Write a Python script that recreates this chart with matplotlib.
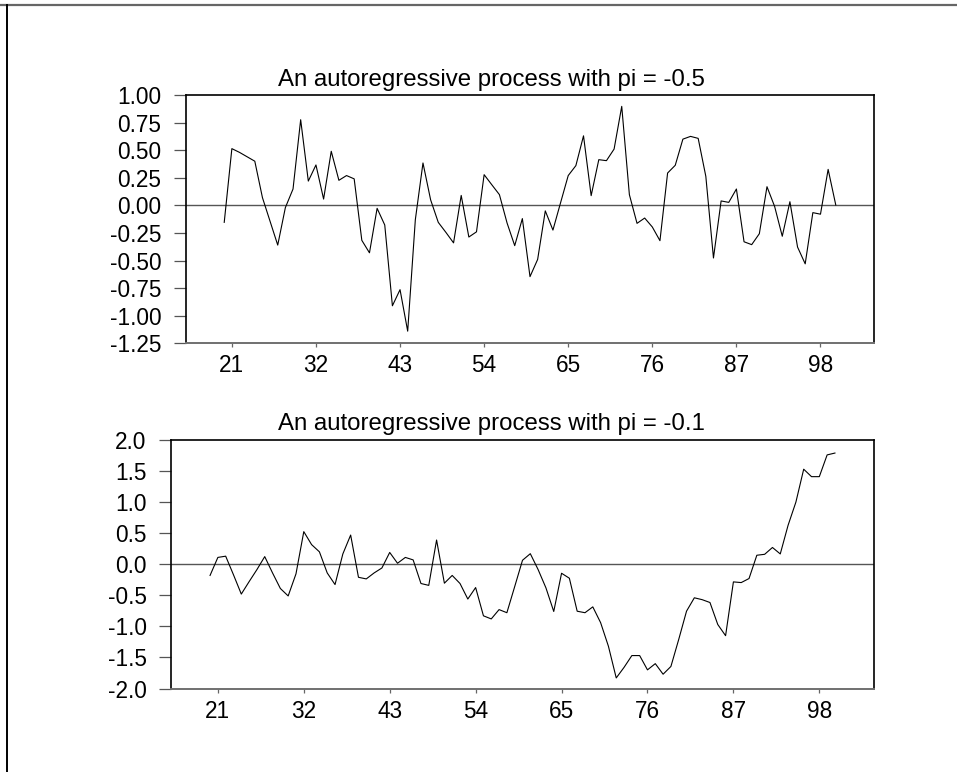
import numpy as np
import matplotlib
matplotlib.use("Agg")
import matplotlib.pyplot as plt
from matplotlib.lines import Line2D

plt.rcParams['font.family'] = ['Liberation Sans', 'DejaVu Sans']

# time index and the two simulated series
t = np.arange(20, 101)

ar_05 = [-0.154, 0.514, 0.48, 0.44, 0.40, 0.07, -0.145, -0.36, -0.02, 0.148,
         0.776, 0.22, 0.366, 0.057, 0.49, 0.227, 0.27, 0.24, -0.317, -0.43,
         -0.027, -0.178, -0.91, -0.764, -1.14, -0.13, 0.384, 0.05, -0.154, -0.245,
         -0.34, 0.09, -0.287, -0.24, 0.278, 0.187, 0.097, -0.16, -0.365, -0.12,
         -0.646, -0.49, -0.05, -0.224, 0.024, 0.27, 0.36, 0.63, 0.088, 0.414,
         0.405, 0.51, 0.897, 0.097, -0.163, -0.115, -0.196, -0.32, 0.293, 0.363,
         0.60, 0.625, 0.607, 0.263, -0.477, 0.04, 0.027, 0.148, -0.33, -0.356,
         -0.257, 0.169, -0.01, -0.28, 0.033, -0.378, -0.53, -0.066, -0.08, 0.326,
         0.003]

ar_01 = [-0.18, 0.11, 0.13, -0.17, -0.48, -0.28, -0.086, 0.123, -0.14, -0.39,
         -0.51, -0.155, 0.525, 0.316, 0.2, -0.14, -0.327, 0.166, 0.47, -0.21,
         -0.236, -0.14, -0.06, 0.19, 0.016, 0.11, 0.07, -0.31, -0.34, 0.39,
         -0.305, -0.18, -0.31, -0.56, -0.375, -0.83, -0.88, -0.73, -0.78, -0.36,
         0.064, 0.17, -0.086, -0.38, -0.76, -0.145, -0.225, -0.756, -0.78, -0.686,
         -0.94, -1.32, -1.83, -1.66, -1.47, -1.47, -1.70, -1.60, -1.77, -1.645,
         -1.21, -0.755, -0.54, -0.57, -0.616, -0.97, -1.15, -0.284, -0.295, -0.23,
         0.145, 0.16, 0.27, 0.166, 0.627, 1.0, 1.53, 1.41, 1.41, 1.76,
         1.79]

x_ticks = [21, 32, 43, 54, 65, 76, 87, 98]
y_ticks_top = [1.00, 0.75, 0.50, 0.25, 0.00, -0.25, -0.50, -0.75, -1.00, -1.25]
y_labels_top = ["1.00", "0.75", "0.50", "0.25", "0.00", "-0.25", "-0.50", "-0.75", "-1.00", "-1.25"]
y_ticks_bot = [2.0, 1.5, 1.0, 0.5, 0.0, -0.5, -1.0, -1.5, -2.0]
y_labels_bot = ["2.0", "1.5", "1.0", "0.5", "0.0", "-0.5", "-1.0", "-1.5", "-2.0"]

titles = ["An autoregressive process with pi = -0.5",
          "An autoregressive process with pi = -0.1"]

W, H = 957, 772
fig = plt.figure(figsize=(W / 100, H / 100), dpi=100)
fig.patch.set_facecolor("white")


def px_axes(left, top, right, bottom):
    return fig.add_axes([left / W, 1 - bottom / H, (right - left) / W, (bottom - top) / H])


ax1 = px_axes(186, 95, 874, 343.3)
ax2 = px_axes(171, 440, 874, 688.5)

setups = [
    (ax1, ar_05, y_ticks_top, y_labels_top, (-1.25, 1.00), titles[0], 86),
    (ax2, ar_01, y_ticks_bot, y_labels_bot, (-2.0, 2.0), titles[1], 430),
]

for ax, series, yt, yl, ylim, title, title_y in setups:
    ax.plot(t, series, color="black", linewidth=0.8)
    ax.axhline(0, color="#555555", linewidth=1.0, zorder=1)
    ax.set_xlim(15, 105)
    ax.set_ylim(*ylim)
    ax.set_xticks(x_ticks)
    ax.set_xticklabels([str(v) for v in x_ticks])
    ax.set_yticks(yt)
    ax.set_yticklabels(yl)
    ax.tick_params(axis="y", direction="out", length=8.6, width=0.9,
                   color="#555555", pad=9, labelsize=16.3)
    ax.tick_params(axis="x", direction="out", length=3, width=0.9,
                   color="#666666", pad=5, labelsize=16.3)
    for side in ["left", "right", "top"]:
        ax.spines[side].set_color("black")
        ax.spines[side].set_linewidth(1.2)
    ax.spines["bottom"].set_color("#707070")
    ax.spines["bottom"].set_linewidth(1.4)
    fig.text(278 / W, 1 - title_y / H, title, ha="left", va="baseline", fontsize=17.3)

# outer frame (only top and left edges are visible)
fig.add_artist(Line2D([0, 1], [1 - 4.5 / H, 1 - 4.5 / H], color="#666666", linewidth=1.6))
fig.add_artist(Line2D([6.5 / W, 6.5 / W], [0, 1 - 4.5 / H], color="black", linewidth=1.4))

fig.savefig("out.png", dpi=100)
